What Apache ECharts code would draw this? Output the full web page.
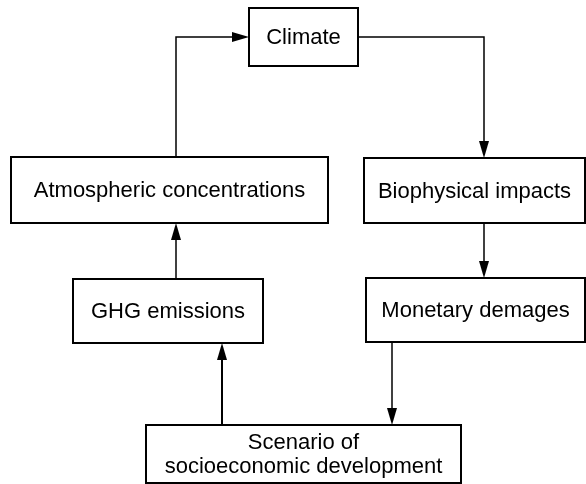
<!DOCTYPE html>
<html>
<head>
<meta charset="utf-8">
<script src="https://cdn.jsdelivr.net/npm/echarts@6/dist/echarts.min.js"></script>
<style>
  html, body { margin: 0; padding: 0; background: #fff; }
  #chart { width: 586px; height: 484px; }
</style>
</head>
<body>
<div id="chart"></div>
<script>
// boxes of the flow diagram (picture units, y grows downward)
var labels = ['Climate', 'Atmospheric concentrations', 'Biophysical impacts',
              'GHG emissions', 'Monetary demages', 'Scenario of\nsocioeconomic development']
var boxLeft = [249, 11, 364, 73, 366, 146]
var boxRight = [358, 328, 585, 263, 585, 461]
var boxTop = [8, 157, 158, 279, 278, 425]
var boxBottom = [66, 223, 223, 343, 342, 483]

// connector paths, arrow at the last point
var linkPaths = [
    [[176, 157], [176, 37], [249, 37]],
    [[358, 37], [484, 37], [484, 158]],
    [[484, 223], [484, 278]],
    [[176, 279], [176, 223]],
    [[222, 425], [222, 343]],
    [[392, 342], [392, 425]]
]
var linkWidth = [1.5, 1.5, 1.5, 1.5, 2, 1.5]

var chart = echarts.init(document.getElementById('chart'))

function renderBox(params, api) {
    var p0 = api.coord([api.value(0), api.value(1)])
    var p1 = api.coord([api.value(2), api.value(3)])
    return {
        type: 'group',
        children: [
            {
                type: 'rect',
                shape: { x: p0[0], y: p0[1], width: p1[0] - p0[0], height: p1[1] - p0[1] },
                style: { fill: '#fff', stroke: '#000', lineWidth: 2 }
            },
            {
                type: 'text',
                x: (p0[0] + p1[0]) / 2,
                y: (p0[1] + p1[1]) / 2 + 1,
                style: {
                    text: labels[params.dataIndex],
                    fill: '#000',
                    font: '22px "Liberation Sans", Arial, sans-serif',
                    align: 'center',
                    verticalAlign: 'middle',
                    lineHeight: 24
                }
            }
        ]
    }
}

function renderLink(params, api) {
    var i = api.value(0)
    var pts = linkPaths[i].map(function (p) { return api.coord(p) })
    var end = pts[pts.length - 1]
    var prev = pts[pts.length - 2]
    var dx = end[0] - prev[0], dy = end[1] - prev[1]
    var len = Math.sqrt(dx * dx + dy * dy)
    var ux = dx / len, uy = dy / len
    var headLen = 17, headHalf = 5
    var base = [end[0] - ux * headLen, end[1] - uy * headLen]
    var linePts = pts.slice(0, -1).concat([base])
    return {
        type: 'group',
        children: [
            {
                type: 'polyline',
                shape: { points: linePts },
                style: { stroke: '#000', lineWidth: linkWidth[i], fill: null }
            },
            {
                type: 'polygon',
                shape: {
                    points: [
                        end,
                        [base[0] - uy * headHalf, base[1] + ux * headHalf],
                        [base[0] + uy * headHalf, base[1] - ux * headHalf]
                    ]
                },
                style: { fill: '#000' }
            }
        ]
    }
}

chart.setOption({
    animation: false,
    grid: { left: 0, right: 0, top: 0, bottom: 0 },
    xAxis: { type: 'value', min: 0, max: 586, show: false },
    yAxis: { type: 'value', min: 0, max: 484, inverse: true, show: false },
    series: [
        {
            type: 'custom',
            renderItem: renderLink,
            clip: false,
            data: linkPaths.map(function (p, i) { return [i] })
        },
        {
            type: 'custom',
            renderItem: renderBox,
            clip: false,
            data: labels.map(function (l, i) {
                return [boxLeft[i], boxTop[i], boxRight[i], boxBottom[i]]
            })
        }
    ]
})
</script>
</body>
</html>
